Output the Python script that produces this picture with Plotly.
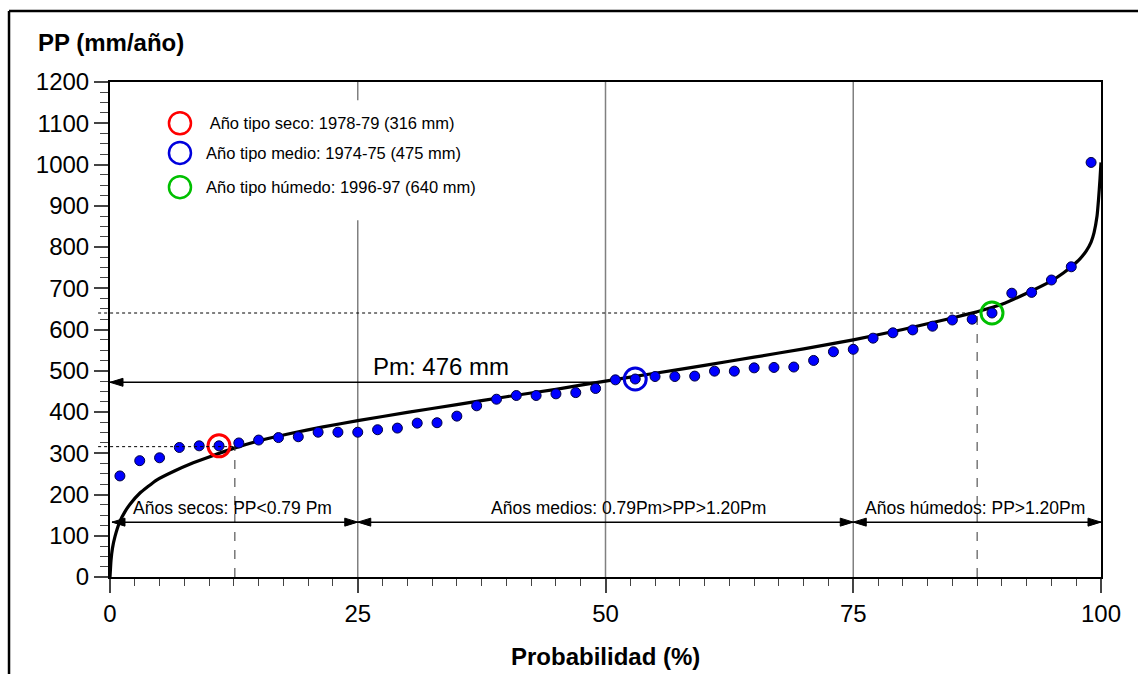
import plotly.graph_objects as go

# ---------------- data ----------------
prob = [1, 3, 5, 7, 9, 11, 13, 15, 17, 19, 21, 23, 25, 27, 29, 31, 33, 35, 37, 39,
        41, 43, 45, 47, 49, 51, 53, 55, 57, 59, 61, 63, 65, 67, 69, 71, 73, 75, 77, 79,
        81, 83, 85, 87, 89, 91, 93, 95, 97, 99]
pp = [245, 282, 289, 314, 318, 318, 325, 332, 338, 340,
      351, 351, 351, 357, 361, 373, 374, 390, 415, 431,
      440, 440, 444, 447, 457, 478, 480, 486, 486, 487,
      499, 499, 507, 508, 509, 525, 546, 552, 579, 592,
      599, 608, 623, 625, 640, 688, 690, 720, 752, 1005]

curve_x = [0, 0.1, 0.25, 0.5, 1.0, 1.5, 2.0, 3.0, 4.7, 6.5, 8.1, 10, 12.6, 15, 18.2, 21.5,
           25, 30, 35, 40, 45, 50, 55, 60, 65, 70, 75, 80, 85, 87.5, 90, 92.5, 95, 96.2,
           97, 97.9, 98.5, 99.0, 99.3, 99.6, 99.75, 99.9, 100]
curve_y = [0, 40, 70, 98, 135, 158, 176, 203, 235, 257, 274, 291, 313, 330, 348, 364,
           379, 399, 418, 437, 455, 475, 494, 513, 533, 553, 575, 600, 628, 643, 661, 688,
           718, 737, 752, 772, 790, 812, 835, 875, 915, 965, 1005]

typ_x = [11, 53, 89]
typ_y = [318, 480, 640]
typ_val = [316, 475, 640]
typ_cross_x = [12.6, 87.5]          # where the curve meets the dry / wet year values
typ_colors = ["#ff0000", "#0000dd", "#00c000"]
legend_labels = [" Año tipo seco: 1978-79 (316 mm)",
                 "Año tipo medio: 1974-75 (475 mm)",
                 "Año tipo húmedo: 1996-97 (640 mm)"]
legend_y = [1100, 1028, 945]

pm_value = 472
pm_label = "Pm: 476 mm"
grid_x = [25, 50, 75]
class_edges = [0.2, 25, 75, 100]
class_y = 133
class_labels = ["Años secos: PP<0.79 Pm", "Años medios: 0.79Pm>PP>1.20Pm",
                "Años húmedos: PP>1.20Pm"]
class_label_x = [12.4, 52.3, 87.3]

FONT = "Arial, 'Liberation Sans', sans-serif"

fig = go.Figure()

# fitted curve
fig.add_trace(go.Scatter(x=curve_x, y=curve_y, mode="lines",
                         line=dict(color="black", width=3.2, shape="spline", smoothing=0.4),
                         hoverinfo="skip", showlegend=False))
# observed points
fig.add_trace(go.Scatter(x=prob, y=pp, mode="markers",
                         marker=dict(size=10, color="#0000ff",
                                     line=dict(color="#000040", width=1)),
                         showlegend=False))
# typical years circles
for xx, yy, cc in zip(typ_x, typ_y, typ_colors):
    fig.add_trace(go.Scatter(x=[xx], y=[yy], mode="markers",
                             marker=dict(symbol="circle-open", size=22, color=cc,
                                         line=dict(width=3)),
                             showlegend=False))

shapes = []
# vertical grid lines
for gx in grid_x:
    shapes.append(dict(type="line", xref="x", yref="y", x0=gx, x1=gx, y0=0, y1=1200,
                       line=dict(color="#808080", width=1.5), layer="below"))
# legend white background
shapes.append(dict(type="rect", xref="x", yref="y", x0=5, x1=41, y0=865, y1=1156,
                   fillcolor="white", line=dict(width=0), layer="below"))
# dotted horizontal lines for dry and wet years
shapes.append(dict(type="line", xref="paper", yref="y", x0=-0.012, x1=typ_cross_x[0] / 100,
                   y0=typ_val[0], y1=typ_val[0], line=dict(color="black", width=1, dash="dot")))
shapes.append(dict(type="line", xref="paper", yref="y", x0=-0.012, x1=typ_cross_x[1] / 100,
                   y0=typ_val[2], y1=typ_val[2], line=dict(color="black", width=1, dash="dot")))
# dashed vertical lines
shapes.append(dict(type="line", xref="x", yref="y", x0=typ_cross_x[0], x1=typ_cross_x[0],
                   y0=0, y1=typ_val[0], line=dict(color="#333333", width=1, dash="dash")))
shapes.append(dict(type="line", xref="x", yref="y", x0=typ_cross_x[1], x1=typ_cross_x[1],
                   y0=0, y1=typ_val[2], line=dict(color="#333333", width=1, dash="dash")))
# Pm arrow line
shapes.append(dict(type="line", xref="x", yref="y", x0=0, x1=49, y0=pm_value, y1=pm_value,
                   line=dict(color="black", width=1.5)))
# class arrow line
shapes.append(dict(type="line", xref="x", yref="y", x0=class_edges[0], x1=class_edges[-1],
                   y0=class_y, y1=class_y, line=dict(color="black", width=1.5)))


def arrowhead(xa, ya, direction):
    # direction: -1 pointing left, +1 pointing right (pixel sized path)
    L, W = 13, 4
    if direction < 0:
        path = f"M0,0 L{L},{W} L{L},{-W} Z"
    else:
        path = f"M0,0 L{-L},{W} L{-L},{-W} Z"
    return dict(type="path", xref="x", yref="y", xsizemode="pixel", ysizemode="pixel",
                xanchor=xa, yanchor=ya, path=path, fillcolor="black",
                line=dict(color="black", width=1))


shapes.append(arrowhead(0, pm_value, -1))
shapes.append(arrowhead(class_edges[0], class_y, -1))
shapes.append(arrowhead(class_edges[1], class_y, 1))
shapes.append(arrowhead(class_edges[1], class_y, -1))
shapes.append(arrowhead(class_edges[2], class_y, 1))
shapes.append(arrowhead(class_edges[2], class_y, -1))
shapes.append(arrowhead(class_edges[3], class_y, 1))

# legend circles
for ly, cc in zip(legend_y, typ_colors):
    shapes.append(dict(type="circle", xref="x", yref="y", xsizemode="pixel", ysizemode="pixel",
                       xanchor=7.06, yanchor=ly, x0=-11, x1=11, y0=-11, y1=11,
                       line=dict(color=cc, width=2.5)))

# outer frame (top and left edges visible)
shapes.append(dict(type="line", xref="paper", yref="paper", x0=-0.1019, x1=1.2,
                   y0=1.1434, y1=1.1434, line=dict(color="black", width=2.5)))
shapes.append(dict(type="line", xref="paper", yref="paper", x0=-0.1019, x1=-0.1019,
                   y0=1.1434, y1=-0.3, line=dict(color="black", width=2.5)))

annotations = []
for ly, lab, lx in zip(legend_y, legend_labels, [9.5, 9.5, 9.5]):
    annotations.append(dict(x=lx, y=ly, xref="x", yref="y", text=lab, showarrow=False,
                            xanchor="left", yanchor="middle",
                            font=dict(family=FONT, size=16.5, color="black")))
annotations.append(dict(x=33.4, y=pm_value, xref="x", yref="y", text=pm_label, showarrow=False,
                        xanchor="center", yanchor="bottom", yshift=0,
                        font=dict(family=FONT, size=24, color="black")))
for lx, lab in zip(class_label_x, class_labels):
    annotations.append(dict(x=lx, y=class_y, xref="x", yref="y", text=lab, showarrow=False,
                            xanchor="center", yanchor="bottom", yshift=2,
                            font=dict(family=FONT, size=17.5, color="black")))
annotations.append(dict(x=-0.0747, y=1.0788, xref="paper", yref="paper",
                        text="<b>PP (mm/año)</b>", showarrow=False, xanchor="left",
                        yanchor="middle", font=dict(family=FONT, size=24, color="black")))
annotations.append(dict(x=0.5, y=-0.1616, xref="paper", yref="paper",
                        text="<b>Probabilidad (%)</b>", showarrow=False, xanchor="center",
                        yanchor="middle", font=dict(family=FONT, size=24, color="black")))

fig.update_layout(
    width=1138, height=674,
    margin=dict(l=110, r=37, t=82, b=97, pad=0),
    paper_bgcolor="white", plot_bgcolor="white",
    showlegend=False,
    shapes=shapes, annotations=annotations,
    font=dict(family=FONT, color="black"),
    xaxis=dict(range=[0, 100], tickvals=[0, 25, 50, 75, 100], showgrid=False, zeroline=False,
               showline=True, linecolor="black", linewidth=2, mirror=True,
               ticks="outside", ticklen=14, tickwidth=1.5, tickcolor="#444444",
               tickfont=dict(family=FONT, size=24, color="black"),
               minor=dict(dtick=2.5, ticks="outside", ticklen=7, tickwidth=1.2,
                          tickcolor="#444444", showgrid=False)),
    yaxis=dict(range=[0, 1200], dtick=100, showgrid=False, zeroline=False,
               showline=True, linecolor="black", linewidth=2, mirror=True,
               ticks="outside", ticklen=14, tickwidth=1.5, tickcolor="#444444",
               tickfont=dict(family=FONT, size=24, color="black"),
               minor=dict(dtick=25, ticks="outside", ticklen=8, tickwidth=1.2,
                          tickcolor="#444444", showgrid=False)),
)

fig.write_html("out.html")
